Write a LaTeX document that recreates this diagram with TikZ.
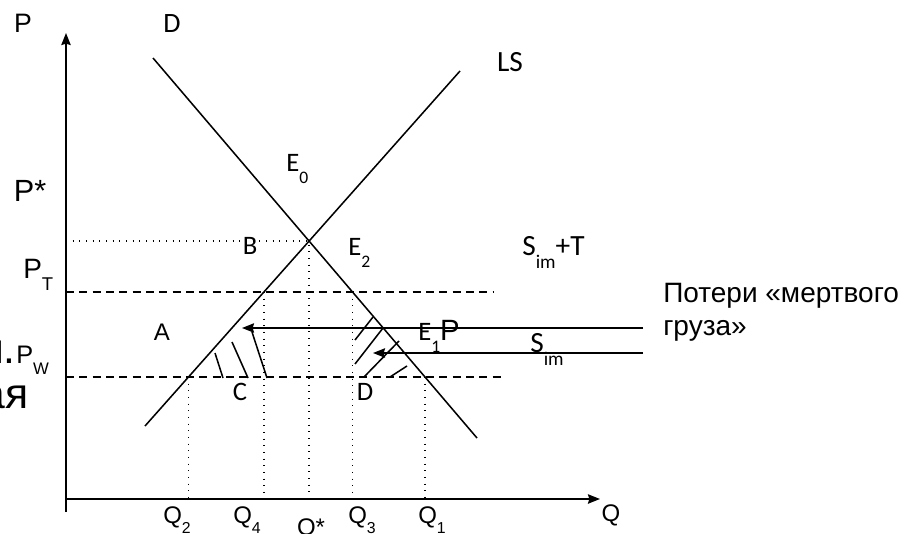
\documentclass[tikz,border=0pt]{standalone}
\usepackage{fontspec}
\setmainfont{Carlito}
\newfontfamily\arialf{Liberation Sans}
\usetikzlibrary{arrows.meta,calc}
\newcommand{\lo}[1]{\raisebox{-0.45em}{\scalebox{0.66}{#1}}}
\newcommand{\fs}[1]{\fontsize{#1}{#1}\selectfont}

\begin{document}
\begin{tikzpicture}[x=7.5pt,y=7.5pt,
  lbl/.style={inner sep=0pt},
  crv/.style={line width=1.15pt},
  axis/.style={line width=1.4pt,-{Stealth[length=9pt,width=7pt,inset=1pt]}},
  lvl/.style={line width=1.1pt,dash pattern=on 6pt off 4pt},
  dotl/.style={line width=1.1pt,dash pattern=on 0.8pt off 4.2pt},
  flow/.style={line width=1.2pt,-{Stealth[length=9pt,width=7pt,inset=1pt]}}]
  \useasboundingbox (0,0) rectangle (90.9,53.3);
  % axes
  \coordinate (O) at (6.6,3.4);
  \coordinate (ybot) at (6.6,2.1);
  \coordinate (ytop) at (6.6,50.0);
  \coordinate (xend) at (60.0,3.4);
  \draw[axis] (ybot) -- (ytop);
  \draw[axis] (O) -- (xend);
  % demand D and local supply LS
  \coordinate (d1) at (15.3,47.5); \coordinate (d2) at (47.7,9.5);
  \coordinate (s1) at (14.5,10.7); \coordinate (s2) at (46.0,46.2);
  \draw[crv] (d1) -- (d2);
  \draw[crv] (s1) -- (s2);
  \coordinate (E0) at (intersection of d1--d2 and s1--s2);
  % price levels P_T and P_w
  \coordinate (pt0) at (6.6,24.1); \coordinate (pt1) at (49.3,24.1);
  \coordinate (pw0) at (6.6,15.6); \coordinate (pw1) at (50.3,15.6);
  \draw[lvl] (pt0) -- (pt1);
  \draw[lvl] (pw0) -- (pw1);
  \coordinate (q4) at (intersection of s1--s2 and pt0--pt1);
  \coordinate (q3) at (intersection of d1--d2 and pt0--pt1);
  \coordinate (q2) at (intersection of s1--s2 and pw0--pw1);
  \coordinate (q1) at (intersection of d1--d2 and pw0--pw1);
  % dotted guides
  \draw[dotl] (O |- E0) -- (E0) -- (E0 |- 0,3.8);
  \foreach \q in {q1,q2,q3,q4} \draw[dotl] (\q) -- (\q |- O);
  % import supply shifts
  \coordinate (a1) at (64.3,20.5); \coordinate (a2) at (24.2,20.5);
  \coordinate (b1) at (64.3,18.0); \coordinate (b2) at (37.3,18.0);
  \draw[flow] (a1) -- (a2);
  \draw[flow] (b1) -- (b2);
  % hatching of the losses
  \foreach \u/\v in {{21.5,18.0}/{22.3,15.5},{23.2,19.1}/{24.8,15.5},{25.2,20.1}/{26.7,15.5},
                     {35.5,19.3}/{37.3,21.6},{35.5,16.9}/{38.3,20.5},{36.4,15.6}/{39.9,19.2},{39.0,15.6}/{40.7,16.7}}
    \draw[crv] (\u) -- (\v);
  % labels
  \node[lbl,font=\arialf\fs{20}] (lP) at (2.3,51.0) {P};
  \node[lbl,font=\fs{21}] (lD) at (17.2,50.9) {D};
  \node[lbl,font=\fs{22}] (lLS) at (51.0,47.1) {LS};
  \node[lbl,font=\fs{20},anchor=base west] (lE0) at (28.6,36.2) {E\lo{0}};
  \node[lbl,font=\arialf\fs{23}] (lPs) at (3.0,34.2) {P*};
  \node[lbl,font=\fs{20}] (lB) at (25.0,28.7) {B};
  \node[lbl,font=\fs{20},anchor=base west] (lE2) at (34.8,27.8) {E\lo{2}};
  \node[lbl,font=\fs{22},anchor=base west] (lSt) at (52.2,27.8) {S\lo{im}+T};
  \node[lbl,font=\arialf\fs{21},anchor=base west] (lPT) at (2.3,25.5) {P\lo{T}};
  \node[lbl,font=\arialf\fs{21},anchor=west,align=left] (lloss) at (66.3,22.1)
       {Потери «мертвого\\[4pt]груза»};
  \node[lbl,font=\arialf\fs{18}] (lA) at (16.2,20.1) {A};
  \node[lbl,font=\fs{20},anchor=base west] (lE1) at (41.8,19.3) {E\lo{1}\arialf\fs{22}P};
  \node[lbl,font=\fs{22},anchor=base west] (lS) at (53.0,18.1) {S\lo{im}};
  \node[lbl,font=\arialf\fs{19},anchor=base west] (lPw) at (1.6,17.0) {P\lo{W}};
  \node[lbl,font=\arialf\fs{32},anchor=base east] (lfr1) at (1.6,17.0) {и.};
  \node[lbl,font=\arialf\fs{32},anchor=base east] (lfr2) at (2.9,12.5) {ая};
  \node[lbl,font=\fs{20}] (lC) at (24.0,14.1) {C};
  \node[lbl,font=\fs{20}] (lD2) at (36.5,14.1) {D};
  \node[lbl,font=\arialf\fs{18},anchor=base west] (lQ2) at (16.3,1.0) {Q\lo{2}};
  \node[lbl,font=\arialf\fs{18},anchor=base west] (lQ4) at (23.3,1.0) {Q\lo{4}};
  \node[lbl,font=\arialf\fs{18}] (lQs) at (31.1,0.4) {Q*};
  \node[lbl,font=\arialf\fs{18},anchor=base west] (lQ3) at (34.8,1.0) {Q\lo{3}};
  \node[lbl,font=\arialf\fs{18},anchor=base west] (lQ1) at (41.8,1.0) {Q\lo{1}};
  \node[lbl,font=\arialf\fs{18}] (lQ) at (61.1,1.8) {Q};
\end{tikzpicture}
\end{document}
